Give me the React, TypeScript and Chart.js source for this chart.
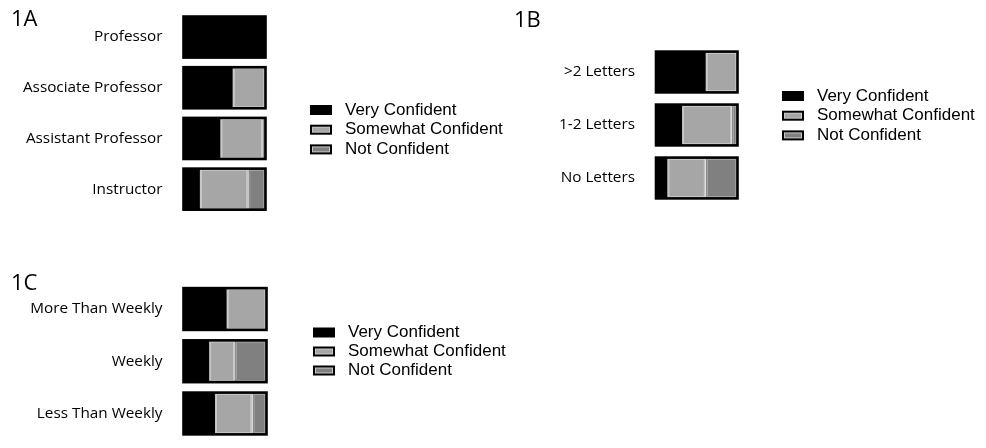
import { useEffect, useRef } from 'react'
import { Chart, registerables } from 'chart.js'

Chart.register(...registerables)

const seriesLabels = ['Very Confident', 'Somewhat Confident', 'Not Confident']

// 1A - academic rank
const rankLabels = ['Professor', 'Associate Professor', 'Assistant Professor', 'Instructor']
const rankVery = [100, 60, 45, 20]
const rankSomewhat = [0, 40, 52, 59]
const rankNot = [0, 0, 3, 21]

// 1B - letters written
const letterLabels = ['>2 Letters', '1-2 Letters', 'No Letters']
const letterVery = [61, 32, 14]
const letterSomewhat = [39, 61, 47]
const letterNot = [0, 7, 39]

// 1C - frequency
const freqLabels = ['More Than Weekly', 'Weekly', 'Less Than Weekly']
const freqVery = [52, 31, 38]
const freqSomewhat = [48, 31, 45]
const freqNot = [0, 38, 17]

const W = 986
const H = 448

// black frame round every whole bar (0..100 on the x scale)
const barOutline = {
  id: 'barOutline',
  afterDatasetsDraw(chart: any) {
    const { ctx } = chart
    const x = chart.scales.x
    const x0 = x.getPixelForValue(0)
    const x1 = x.getPixelForValue(100)
    ctx.save()
    ctx.strokeStyle = '#000'
    ctx.lineWidth = 2.6
    chart.getDatasetMeta(0).data.forEach((el: any) => {
      const { y, height } = el.getProps(['y', 'height'], true)
      ctx.strokeRect(x0, y - height / 2, x1 - x0, height)
    })
    ctx.restore()
  },
}

// small boxed legend to the right of the bars
const boxLegend = {
  id: 'boxLegend',
  afterDraw(chart: any, _args: any, opts: any) {
    const { ctx } = chart
    ctx.save()
    ctx.font = '17px "Liberation Sans", Arial, sans-serif'
    ctx.textBaseline = 'middle'
    chart.data.datasets.forEach((ds: any, i: number) => {
      const cy = opts.y + i * opts.step
      ctx.fillStyle = '#000'
      ctx.fillRect(opts.x, cy - 5, 22, 10)
      if (i > 0) {
        ctx.fillStyle = '#c8c8c8'
        ctx.fillRect(opts.x + 2, cy - 3, 18, 6)
        ctx.fillStyle = ds.backgroundColor
        ctx.fillRect(opts.x + 3, cy - 2, 16, 4)
      }
      ctx.fillStyle = '#000'
      ctx.fillText(ds.label, opts.x + 35, cy)
    })
    ctx.restore()
  },
}

interface PanelProps {
  labels: string[]
  very: number[]
  somewhat: number[]
  not: number[]
  left: number
  right: number
  top: number
  bottom: number
  barPct: number
  legend: { x: number; y: number; step: number }
}

function Panel(p: PanelProps) {
  const canvasRef = useRef<HTMLCanvasElement>(null)
  const chartRef = useRef<Chart | null>(null)

  useEffect(() => {
    if (!canvasRef.current) return
    if (chartRef.current) chartRef.current.destroy()

    chartRef.current = new Chart(canvasRef.current, {
      type: 'bar',
      data: {
        labels: p.labels,
        datasets: [
          { label: seriesLabels[0], data: p.very, backgroundColor: '#000', borderWidth: 0 },
          {
            label: seriesLabels[1], data: p.somewhat, backgroundColor: '#a6a6a6',
            borderColor: '#c6c6c6', borderWidth: 1.8, borderSkipped: false,
          },
          {
            label: seriesLabels[2], data: p.not, backgroundColor: '#808080',
            borderColor: '#8e8e8e', borderWidth: 1.8, borderSkipped: false,
          },
        ],
      },
      options: {
        indexAxis: 'y',
        responsive: false,
        animation: false,
        layout: { padding: { left: 0, top: p.top, right: W - p.right, bottom: H - p.bottom } },
        datasets: { bar: { categoryPercentage: 1, barPercentage: p.barPct } },
        plugins: {
          legend: { display: false },
          tooltip: { enabled: false },
          boxLegend: p.legend,
        } as any,
        scales: {
          x: { stacked: true, min: 0, max: 100, display: false },
          y: {
            stacked: true,
            grid: { display: false, drawTicks: false },
            border: { display: false },
            ticks: {
              padding: 21,
              color: '#000',
              font: { family: "'Open Sans', sans-serif", size: 15.3, lineHeight: 1 },
            },
            afterFit: (s: any) => {
              s.width = p.left
              s.paddingTop = 0
              s.paddingBottom = 0
            },
          },
        },
      },
      plugins: [barOutline, boxLegend],
    })

    return () => { chartRef.current?.destroy() }
  }, [])

  return (
    <canvas
      ref={canvasRef}
      width={W}
      height={H}
      style={{ position: 'absolute', left: 0, top: 0, width: W, height: H }}
    />
  )
}

const titleStyle: React.CSSProperties = {
  position: 'absolute',
  fontFamily: "'Open Sans', sans-serif",
  fontSize: 22,
  lineHeight: '30px',
  color: '#000',
}

export default function App() {
  return (
    <div style={{ position: 'absolute', left: 0, top: 0, width: W, height: H, background: '#fff', overflow: 'hidden' }}>
      <Panel
        labels={rankLabels} very={rankVery} somewhat={rankSomewhat} not={rankNot}
        left={183.5} right={265.5} top={11.7} bottom={214.5} barPct={0.81}
        legend={{ x: 310, y: 110, step: 19.7 }}
      />
      <Panel
        labels={letterLabels} very={letterVery} somewhat={letterSomewhat} not={letterNot}
        left={656} right={737.5} top={45.5} bottom={204.5} barPct={0.77}
        legend={{ x: 782, y: 96, step: 19.7 }}
      />
      <Panel
        labels={freqLabels} very={freqVery} somewhat={freqSomewhat} not={freqNot}
        left={183.5} right={266.5} top={282.9} bottom={439.6} barPct={0.8}
        legend={{ x: 313, y: 332.5, step: 19 }}
      />
      <div style={{ ...titleStyle, left: 11, top: 2 }}>1A</div>
      <div style={{ ...titleStyle, left: 514, top: 3 }}>1B</div>
      <div style={{ ...titleStyle, left: 11, top: 266 }}>1C</div>
    </div>
  )
}
